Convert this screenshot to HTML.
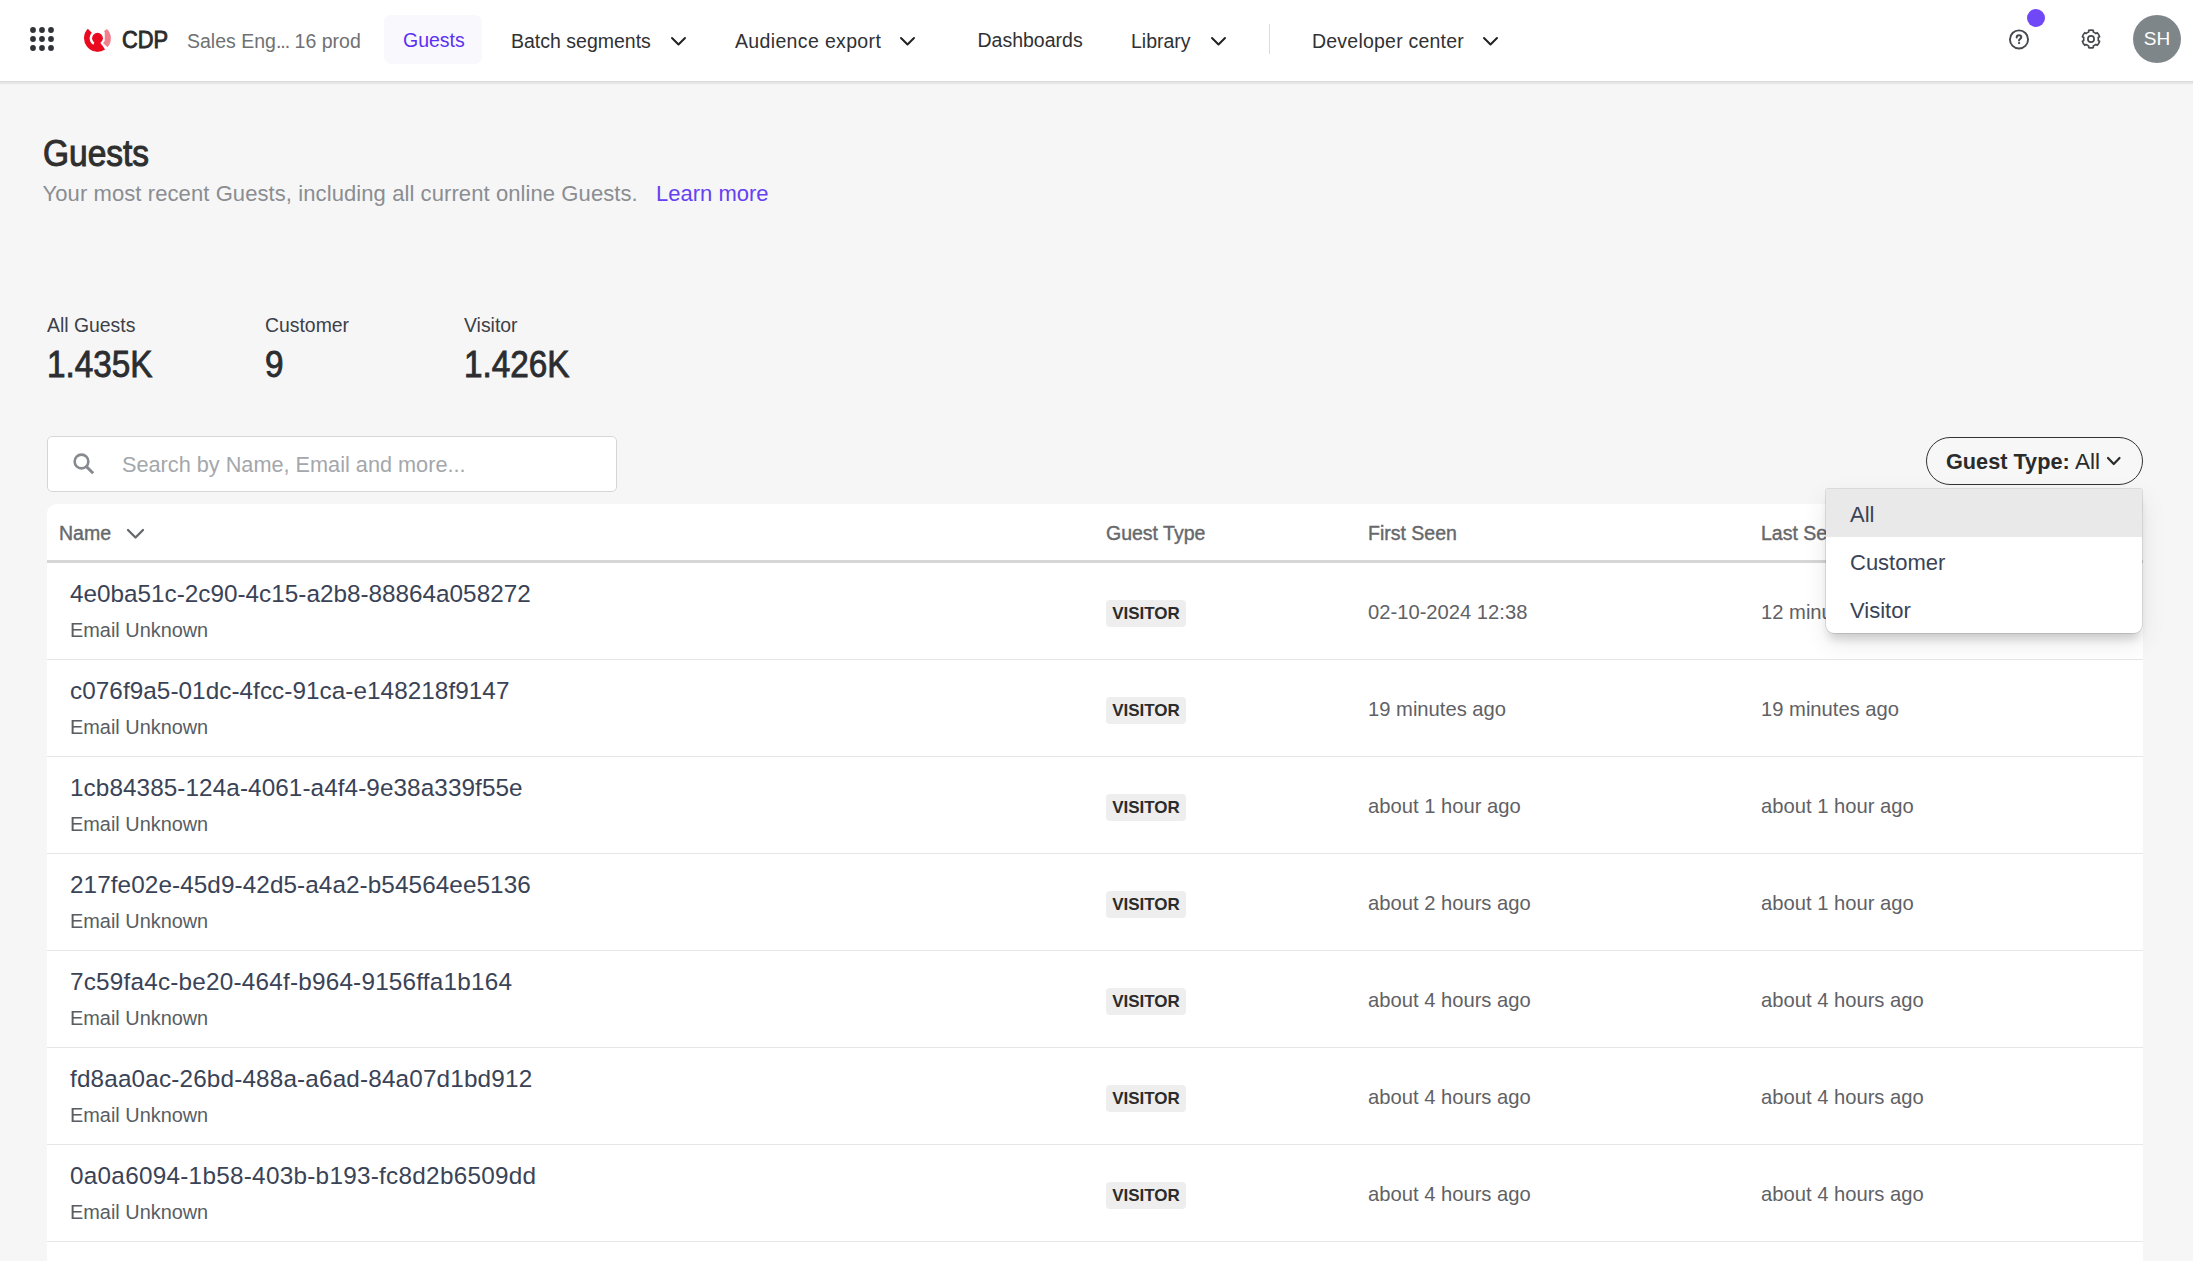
<!DOCTYPE html>
<html><head><meta charset="utf-8"><title>Guests</title>
<style>
*{box-sizing:border-box;margin:0;padding:0}
html,body{width:2193px;height:1261px;overflow:hidden}
body{background:#f6f6f6;font-family:"Liberation Sans",sans-serif;color:#333;position:relative}
.abs{position:absolute;white-space:nowrap}
#nav{position:absolute;left:0;top:0;width:2193px;height:81px;background:#fff;box-shadow:0 1px 0 #d9d9d9,0 3px 0 #e7e7e7,0 4px 0 #f2f2f2}
.nt{position:absolute;font-size:19.5px;color:#303133;top:29.4px;line-height:24px;white-space:nowrap}
.cdp{left:121.5px;top:26.9px;font-size:23px;color:#2b2b2b;line-height:26px;-webkit-text-stroke:.85px #2b2b2b;transform:scaleX(.95);transform-origin:0 0}
.avatar{left:2133px;top:15px;width:48px;height:48px;border-radius:50%;background:#7f868a;color:#fff;font-size:19px;line-height:48px;text-align:center}
.title{left:42.5px;top:134px;font-size:36px;color:#2f2f2f;line-height:40px;-webkit-text-stroke:1px #2f2f2f;transform:scaleX(.93);transform-origin:0 0}
.sub{left:42.5px;top:181px;font-size:22px;letter-spacing:.09px;color:#8a8d91;line-height:26px}
.learn{left:656px;top:181px;font-size:22px;color:#6541f2;line-height:26px}
.slab{top:313px;font-size:19.4px;color:#3c4048;line-height:24px}
.sval{top:344px;font-size:36.6px;color:#2b2d30;line-height:42px;-webkit-text-stroke:.9px #2b2d30;transform:scaleX(.91);transform-origin:0 0}
.search{left:47px;top:436px;width:570px;height:56px;background:#fff;border:1px solid #d6d6d6;border-radius:5px}
.ph{left:122px;top:452px;font-size:21.7px;color:#a4a7ab;line-height:26px}
.gtbtn{left:1926px;top:437px;width:217px;height:48px;border:1.5px solid #333;border-radius:24px;background:#f7f7f7}
.gttxt{left:1946px;top:448.5px;font-size:21.7px;color:#2b2b2b;line-height:26px}
.gtall{left:2075px;top:449px;font-size:22.5px;color:#2b2b2b;line-height:26px}
.card{left:47px;top:504px;width:2096px;height:800px;background:#fff;border-radius:10px 10px 0 0}
.th{top:521px;font-size:19.5px;color:#66686b;line-height:24px;-webkit-text-stroke:.4px #66686b}
.hline{left:47px;top:560px;width:2096px;height:3px;background:#d6d6d6}
.rline{left:47px;width:2096px;height:1px;background:#e6e6e6}
.nm{left:70px;font-size:24.3px;color:#3a4356;line-height:28px}
.em{left:70px;font-size:19.9px;color:#585d63;line-height:24px}
.badge{left:1106px;width:80px;height:27px;background:#eeeeee;border-radius:4px;font-size:17px;font-weight:bold;color:#2b2b2b;line-height:27px;text-align:center}
.dt{font-size:20.2px;color:#5f6165;line-height:24px}
.dd{left:1826px;top:489px;width:316px;height:144px;background:#fff;border-radius:8px;box-shadow:0 9px 10px -3px rgba(0,0,0,.15),0 10px 26px rgba(0,0,0,.09),0 0 0 1px rgba(0,0,0,.1);overflow:hidden;border-radius:2px 2px 8px 8px}
.ddi{height:48px;line-height:48px;padding-left:24px;padding-top:2px;font-size:22px;color:#3a4356}
.ddi.sel{background:#e9e9e9}

</style></head><body>
<div id="nav">
<svg class="abs" style="left:28px;top:25px" width="28" height="28" viewBox="0 0 28 28"><g fill="#2f3237">
<circle cx="5" cy="5" r="2.9"/><circle cx="14" cy="5" r="2.9"/><circle cx="23" cy="5" r="2.9"/>
<circle cx="5" cy="14" r="2.9"/><circle cx="14" cy="14" r="2.9"/><circle cx="23" cy="14" r="2.9"/>
<circle cx="5" cy="23" r="2.9"/><circle cx="14" cy="23" r="2.9"/><circle cx="23" cy="23" r="2.9"/></g></svg>
<svg class="abs" style="left:80px;top:25px" width="36" height="31" viewBox="0 0 36 31">
<path d="M24.85 24.52 A13.5 13.5 0 0 1 7.79 3.82 L11.82 7.71 A7.9 7.9 0 0 0 21.8 19.83 Z" fill="#e90a1f"/>
<path d="M14.4 17.3 L20.3 17.3 L20.8 18.6 L24.85 24.52 L17.5 26.6 L13.3 19.9 Z" fill="#e90a1f"/>
<circle cx="17.5" cy="13.2" r="5.4" fill="#e90a1f"/>
<path d="M27 3.9 A13.5 13.5 0 0 1 27.53 22.23 L23.07 18.22 L24.75 15.8 L24.75 7.6 L24.1 5.9 Z" fill="#f2808c"/>
</svg>
<div class="abs cdp">CDP</div>
<div class="nt" style="left:187px;color:#6f7173">Sales Eng<span style="letter-spacing:-1px">...</span> 16 prod</div>
<div class="abs" style="left:384px;top:15px;width:98px;height:49px;border-radius:7px;background:#f9f9fd"></div>
<div class="nt" style="left:403px;top:28.3px;color:#5b31f4">Guests</div>
<div class="nt" style="left:511px">Batch segments</div>
<svg class="abs" style="left:669.7px;top:35.9px" width="17" height="10.5" viewBox="0 0 17 10.5"><path d="M2 2 L8.5 8.5 L15 2" fill="none" stroke="#222" stroke-width="2" stroke-linecap="round" stroke-linejoin="round"/></svg>
<div class="nt" style="left:735px;letter-spacing:.35px">Audience export</div>
<svg class="abs" style="left:899.2px;top:35.9px" width="17" height="10.5" viewBox="0 0 17 10.5"><path d="M2 2 L8.5 8.5 L15 2" fill="none" stroke="#222" stroke-width="2" stroke-linecap="round" stroke-linejoin="round"/></svg>
<div class="nt" style="left:977.5px;top:28.3px">Dashboards</div>
<div class="nt" style="left:1131px">Library</div>
<svg class="abs" style="left:1209.6px;top:35.9px" width="17" height="10.5" viewBox="0 0 17 10.5"><path d="M2 2 L8.5 8.5 L15 2" fill="none" stroke="#222" stroke-width="2" stroke-linecap="round" stroke-linejoin="round"/></svg>
<div class="abs" style="left:1269px;top:24px;width:1px;height:30px;background:#dcdcdc"></div>
<div class="nt" style="left:1312px;letter-spacing:.22px">Developer center</div>
<svg class="abs" style="left:1482.4px;top:35.9px" width="17" height="10.5" viewBox="0 0 17 10.5"><path d="M2 2 L8.5 8.5 L15 2" fill="none" stroke="#222" stroke-width="2" stroke-linecap="round" stroke-linejoin="round"/></svg>
<svg class="abs" style="left:2007px;top:27px" width="24" height="24" viewBox="0 0 24 24">
<circle cx="12" cy="12.4" r="9.05" fill="none" stroke="#45484c" stroke-width="1.9"/>
<path d="M9.7 10.4 C9.7 9.1 10.7 8.3 12 8.3 C13.3 8.3 14.3 9.1 14.3 10.2 C14.3 11.8 12.1 11.9 12.05 13.5" fill="none" stroke="#45484c" stroke-width="2" stroke-linecap="round"/>
<circle cx="12.05" cy="16.1" r="1.15" fill="#45484c"/></svg>
<div class="abs" style="left:2027px;top:9px;width:18px;height:18px;border-radius:50%;background:#7048f8"></div>
<svg class="abs" style="left:2079px;top:27px" width="24" height="24" viewBox="0 0 24 24">
<path d="M9.70 5.02 L9.70 3.40 A8.90 8.90 0 0 1 14.30 3.40 L14.30 5.02 A7.35 7.35 0 0 1 16.90 6.52 L18.30 5.71 A8.90 8.90 0 0 1 20.60 9.69 L19.20 10.50 A7.35 7.35 0 0 1 19.20 13.50 L20.60 14.31 A8.90 8.90 0 0 1 18.30 18.29 L16.90 17.48 A7.35 7.35 0 0 1 14.30 18.98 L14.30 20.60 A8.90 8.90 0 0 1 9.70 20.60 L9.70 18.98 A7.35 7.35 0 0 1 7.10 17.48 L5.70 18.29 A8.90 8.90 0 0 1 3.40 14.31 L4.80 13.50 A7.35 7.35 0 0 1 4.80 10.50 L3.40 9.69 A8.90 8.90 0 0 1 5.70 5.71 L7.10 6.52 A7.35 7.35 0 0 1 9.70 5.02 Z" fill="none" stroke="#45484c" stroke-width="1.65" stroke-linejoin="round"/>
<circle cx="12" cy="12" r="3.1" fill="none" stroke="#45484c" stroke-width="1.7"/></svg>
<div class="abs avatar">SH</div>
</div>
<div class="abs title">Guests</div>
<div class="abs sub">Your most recent Guests, including all current online Guests.</div>
<div class="abs learn">Learn more</div>
<div class="abs slab" style="left:47px">All Guests</div><div class="abs sval" style="left:47px">1.435K</div>
<div class="abs slab" style="left:265px">Customer</div><div class="abs sval" style="left:265px">9</div>
<div class="abs slab" style="left:464px">Visitor</div><div class="abs sval" style="left:464px">1.426K</div>
<div class="abs search"></div>
<svg class="abs" style="left:71px;top:452px" width="25" height="25" viewBox="0 0 25 25">
<circle cx="10.5" cy="9.5" r="6.85" fill="none" stroke="#868a8f" stroke-width="2.6"/>
<path d="M15.4 14.6 L22.2 21.3" stroke="#868a8f" stroke-width="2.9" stroke-linecap="butt"/></svg>
<div class="abs ph">Search by Name, Email and more...</div>
<div class="abs gtbtn"></div><div class="abs gttxt"><b>Guest Type:</b></div><div class="abs gtall">All</div>
<svg class="abs" style="left:2106.2px;top:455.8px" width="15.5" height="10" viewBox="0 0 15.5 10"><path d="M2 2 L7.75 8 L13.5 2" fill="none" stroke="#2b2b2b" stroke-width="2.2" stroke-linecap="round" stroke-linejoin="round"/></svg>
<div class="abs card"></div>
<div class="abs th" style="left:59px">Name</div>
<svg class="abs" style="left:125.8px;top:528.0px" width="19" height="11.5" viewBox="0 0 19 11.5"><path d="M2 2 L9.5 9.5 L17 2" fill="none" stroke="#66686b" stroke-width="2.3" stroke-linecap="round" stroke-linejoin="round"/></svg>
<div class="abs th" style="left:1106px">Guest Type</div>
<div class="abs th" style="left:1368px">First Seen</div>
<div class="abs th" style="left:1761px">Last Seen</div>
<div class="abs hline"></div>
<div class="abs nm" style="top:580px;letter-spacing:0px">4e0ba51c-2c90-4c15-a2b8-88864a058272</div>
<div class="abs em" style="top:617.8px">Email Unknown</div>
<div class="abs badge" style="top:600px">VISITOR</div>
<div class="abs dt" style="left:1368px;top:600px">02-10-2024 12:38</div>
<div class="abs dt" style="left:1761px;top:600px">12 minutes ago</div>
<div class="abs rline" style="top:659px"></div>
<div class="abs nm" style="top:677px;letter-spacing:0.05px">c076f9a5-01dc-4fcc-91ca-e148218f9147</div>
<div class="abs em" style="top:714.8px">Email Unknown</div>
<div class="abs badge" style="top:697px">VISITOR</div>
<div class="abs dt" style="left:1368px;top:697px">19 minutes ago</div>
<div class="abs dt" style="left:1761px;top:697px">19 minutes ago</div>
<div class="abs rline" style="top:756px"></div>
<div class="abs nm" style="top:774px;letter-spacing:0.077px">1cb84385-124a-4061-a4f4-9e38a339f55e</div>
<div class="abs em" style="top:811.8px">Email Unknown</div>
<div class="abs badge" style="top:794px">VISITOR</div>
<div class="abs dt" style="left:1368px;top:794px">about 1 hour ago</div>
<div class="abs dt" style="left:1761px;top:794px">about 1 hour ago</div>
<div class="abs rline" style="top:853px"></div>
<div class="abs nm" style="top:871px;letter-spacing:0.08px">217fe02e-45d9-42d5-a4a2-b54564ee5136</div>
<div class="abs em" style="top:908.8px">Email Unknown</div>
<div class="abs badge" style="top:891px">VISITOR</div>
<div class="abs dt" style="left:1368px;top:891px">about 2 hours ago</div>
<div class="abs dt" style="left:1761px;top:891px">about 1 hour ago</div>
<div class="abs rline" style="top:950px"></div>
<div class="abs nm" style="top:968px;letter-spacing:0.21px">7c59fa4c-be20-464f-b964-9156ffa1b164</div>
<div class="abs em" style="top:1005.8px">Email Unknown</div>
<div class="abs badge" style="top:988px">VISITOR</div>
<div class="abs dt" style="left:1368px;top:988px">about 4 hours ago</div>
<div class="abs dt" style="left:1761px;top:988px">about 4 hours ago</div>
<div class="abs rline" style="top:1047px"></div>
<div class="abs nm" style="top:1065px;letter-spacing:0.157px">fd8aa0ac-26bd-488a-a6ad-84a07d1bd912</div>
<div class="abs em" style="top:1102.8px">Email Unknown</div>
<div class="abs badge" style="top:1085px">VISITOR</div>
<div class="abs dt" style="left:1368px;top:1085px">about 4 hours ago</div>
<div class="abs dt" style="left:1761px;top:1085px">about 4 hours ago</div>
<div class="abs rline" style="top:1144px"></div>
<div class="abs nm" style="top:1162px;letter-spacing:0.27px">0a0a6094-1b58-403b-b193-fc8d2b6509dd</div>
<div class="abs em" style="top:1199.8px">Email Unknown</div>
<div class="abs badge" style="top:1182px">VISITOR</div>
<div class="abs dt" style="left:1368px;top:1182px">about 4 hours ago</div>
<div class="abs dt" style="left:1761px;top:1182px">about 4 hours ago</div>
<div class="abs rline" style="top:1241px"></div>
<div class="abs dd">
<div class="ddi sel">All</div><div class="ddi">Customer</div><div class="ddi">Visitor</div></div>
</body></html>
